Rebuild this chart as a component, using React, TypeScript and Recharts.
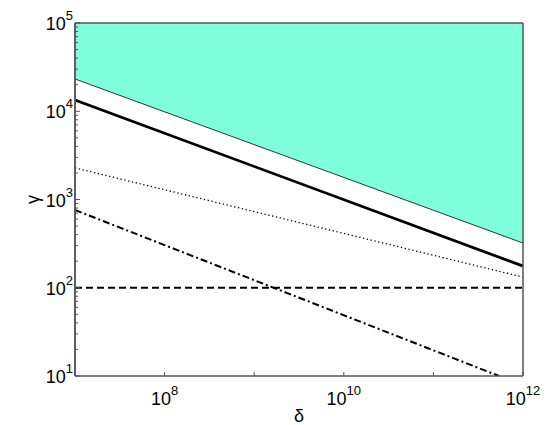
import { ComposedChart, Area, Line, XAxis, YAxis, Label, ReferenceLine } from 'recharts';

// values (log-log axes)
const deltaValues = [1e7, 5.4e11, 1e12];
const regionLower = [23200, null, 321];
const regionUpper = [1e5, null, 1e5];
const solidLine = [13400, null, 176];
const dottedLine = [2280, null, 132];
const dashedLine = [100, null, 100];
const dashDotLine = [760, 10, null];

const xTicks = [1e7, 1e8, 1e9, 1e10, 1e11, 1e12];
const xLabelled = [1e8, 1e10, 1e12];
const yDecades = [1e1, 1e2, 1e3, 1e4, 1e5];
const yMinorSteps = [2, 3, 4, 5, 6, 7, 8, 9];

const yTicks = [
  ...yDecades,
  ...yDecades.slice(0, -1).flatMap((d) => yMinorSteps.map((m) => m * d)),
].sort((a, b) => a - b);

const rows = deltaValues.map((d, i) => ({
  delta: d,
  region: regionLower[i] == null ? null : [regionLower[i], regionUpper[i]],
  boundary: regionLower[i],
  solid: solidLine[i],
  dotted: dottedLine[i],
  dashed: dashedLine[i],
  dashdot: dashDotLine[i],
}));

const AXIS = '#555';
const FILL = '#7fffdc';
const FONT = '"Liberation Sans", Arial, sans-serif';

const isDecade = (v: number) => {
  const e = Math.round(Math.log10(v));
  return Math.abs(Math.pow(10, e) - v) < 1e-6 * v;
};

function PowerLabel({ x, y, v, anchor }: { x: number; y: number; v: number; anchor: 'end' | 'middle' }) {
  const exp = Math.round(Math.log10(v));
  return (
    <text x={x} y={y} textAnchor={anchor} fontFamily={FONT} fontSize={18} fill="#000">
      <tspan>10</tspan>
      <tspan dy={-10} fontSize={13}>{exp}</tspan>
    </text>
  );
}

function LeftTick(props: any) {
  const { x, y, payload } = props;
  const major = isDecade(payload.value);
  return (
    <g>
      <line x1={x} x2={x + (major ? 5 : 3)} y1={y} y2={y} stroke={AXIS} />
      {major && <PowerLabel x={x - 2} y={y + 7} v={payload.value} anchor="end" />}
    </g>
  );
}

function RightTick(props: any) {
  const { x, y, payload } = props;
  const major = isDecade(payload.value);
  return <line x1={x} x2={x - (major ? 5 : 3)} y1={y} y2={y} stroke={AXIS} />;
}

function BottomTick(props: any) {
  const { x, y, payload } = props;
  const v = payload.value;
  const labelled = xLabelled.some((t) => Math.abs(t - v) < 1e-6 * v);
  return (
    <g>
      <line x1={x} x2={x} y1={y} y2={y - 4} stroke={AXIS} />
      {labelled && <PowerLabel x={x} y={y + 29} v={v} anchor="middle" />}
    </g>
  );
}

function TopTick(props: any) {
  const { x, y } = props;
  return <line x1={x} x2={x} y1={y} y2={y + 4} stroke={AXIS} />;
}

export default function App() {
  return (
    <div style={{ width: 545, height: 425, padding: 8, boxSizing: 'border-box' }}>
      <style>{'body { margin: 0; }'}</style>
      <ComposedChart
        width={537}
        height={417}
        data={rows}
        margin={{ top: 15, right: 22, left: 0, bottom: 0 }}
        style={{ fontFamily: FONT, overflow: 'visible' }}
      >
        <XAxis
          dataKey="delta"
          type="number"
          scale="log"
          domain={[1e7, 1e12]}
          allowDataOverflow
          ticks={xTicks}
          interval={0}
          height={49}
          tickSize={0}
          tickMargin={0}
          tickLine={false}
          tick={<BottomTick />}
          axisLine={{ stroke: AXIS, strokeWidth: 1.5 }}
        >
          <Label
            content={({ viewBox }: any) => (
              <text
                x={viewBox.x + viewBox.width / 2}
                y={viewBox.y + 46}
                textAnchor="middle"
                fontFamily={FONT}
                fontSize={18}
              >
                δ
              </text>
            )}
          />
        </XAxis>
        <XAxis
          xAxisId="top"
          orientation="top"
          dataKey="delta"
          type="number"
          scale="log"
          domain={[1e7, 1e12]}
          allowDataOverflow
          ticks={xTicks}
          interval={0}
          height={0}
          tickSize={0}
          tickMargin={0}
          tickLine={false}
          tick={<TopTick />}
          axisLine={{ stroke: AXIS, strokeWidth: 1.5 }}
        />
        <YAxis
          type="number"
          scale="log"
          domain={[10, 1e5]}
          allowDataOverflow
          ticks={yTicks}
          interval={0}
          width={67}
          tickSize={0}
          tickMargin={0}
          tickLine={false}
          tick={<LeftTick />}
          axisLine={{ stroke: AXIS, strokeWidth: 1.5 }}
        >
          <Label
            content={({ viewBox }: any) => {
              const cx = viewBox.x + 31;
              const cy = viewBox.y + viewBox.height / 2;
              return (
                <text
                  x={cx}
                  y={cy}
                  textAnchor="middle"
                  fontFamily={FONT}
                  fontSize={18}
                  transform={`rotate(-90, ${cx}, ${cy})`}
                >
                  γ
                </text>
              );
            }}
          />
        </YAxis>
        <YAxis
          yAxisId="right"
          orientation="right"
          type="number"
          scale="log"
          domain={[10, 1e5]}
          allowDataOverflow
          ticks={yTicks}
          interval={0}
          width={0}
          tickSize={0}
          tickMargin={0}
          tickLine={false}
          tick={<RightTick />}
          axisLine={{ stroke: AXIS, strokeWidth: 1.5 }}
        />
        <Area
          dataKey="region"
          type="linear"
          fill={FILL}
          fillOpacity={1}
          stroke="none"
          connectNulls
          isAnimationActive={false}
        />
        <Line dataKey="boundary" type="linear" stroke="#333" strokeWidth={1} dot={false} connectNulls isAnimationActive={false} />
        <Line dataKey="solid" type="linear" stroke="#000" strokeWidth={2.8} dot={false} connectNulls isAnimationActive={false} />
        <Line dataKey="dotted" type="linear" stroke="#000" strokeWidth={1.3} strokeDasharray="1.3 2.6" dot={false} connectNulls isAnimationActive={false} />
        <Line dataKey="dashed" type="linear" stroke="#000" strokeWidth={2} strokeDasharray="7 4" dot={false} connectNulls isAnimationActive={false} />
        <Line dataKey="dashdot" type="linear" stroke="#000" strokeWidth={2} strokeDasharray="7 3 2 3" dot={false} connectNulls isAnimationActive={false} />
        <ReferenceLine y={1e5} stroke={AXIS} strokeWidth={1.5} ifOverflow="visible" />
        <ReferenceLine x={1e12} stroke={AXIS} strokeWidth={1.5} ifOverflow="visible" />
        <ReferenceLine x={1e7} stroke={AXIS} strokeWidth={1.5} ifOverflow="visible" />
      </ComposedChart>
    </div>
  );
}
